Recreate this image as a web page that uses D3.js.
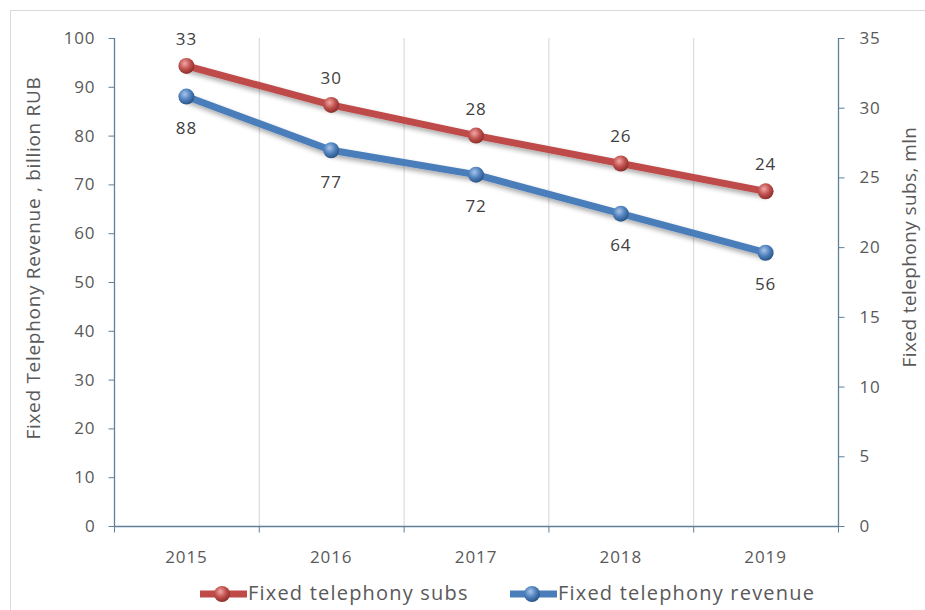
<!DOCTYPE html>
<html>
<head>
<meta charset="utf-8">
<script src="https://cdn.jsdelivr.net/npm/d3@7"></script>
<style>
  html, body { margin: 0; padding: 0; background: #fff; }
  svg { display: block; font-family: "Open Sans", "Noto Sans", sans-serif; }
</style>
</head>
<body>
<svg id="chart" width="925" height="610"></svg>
<script>
const years = ["2015", "2016", "2017", "2018", "2019"];
const revenue = [88, 77, 72, 64, 56];          // billion RUB, left axis
const subs = [33, 30.2, 28, 26, 24];            // mln, right axis
const subsLabels = ["33", "30", "28", "26", "24"];
const revenueTicks = [0, 10, 20, 30, 40, 50, 60, 70, 80, 90, 100];
const subsTicks = [0, 5, 10, 15, 20, 25, 30, 35];

const svg = d3.select("#chart");
const W = 925, H = 610;
const plot = { left: 114, right: 838, top: 38, bottom: 526 };
const textColor = "#595959";
const axisColor = "#5f7f9a";
const red = "#be4b48", blue = "#4a7ebb";

// frame of the chart area
svg.append("rect")
  .attr("x", 10.5).attr("y", 10.5)
  .attr("width", W).attr("height", H)
  .attr("fill", "#fff").attr("stroke", "#d9d9d9");

const x = d3.scaleBand().domain(years).range([plot.left, plot.right]).paddingInner(0).paddingOuter(0);
const yL = d3.scaleLinear().domain([0, 100]).range([plot.bottom, plot.top]);
const yR = d3.scaleLinear().domain([0, 35]).range([plot.bottom, plot.top]);
const cx = d => x(d) + x.bandwidth() / 2;

const defs = svg.append("defs");
function ballGradient(id, light, base, dark) {
  const g = defs.append("radialGradient").attr("id", id)
    .attr("cx", "40%").attr("cy", "35%").attr("r", "65%");
  g.append("stop").attr("offset", "0%").attr("stop-color", light);
  g.append("stop").attr("offset", "55%").attr("stop-color", base);
  g.append("stop").attr("offset", "100%").attr("stop-color", dark);
}
ballGradient("ballRed", "#f0a8a6", "#c0504d", "#8c2f2c");
ballGradient("ballBlue", "#a9c4ea", "#4f81bd", "#2c5588");
const shadow = defs.append("filter").attr("id", "shadow")
  .attr("x", "-10%").attr("y", "-20%").attr("width", "120%").attr("height", "160%");
shadow.append("feGaussianBlur").attr("in", "SourceAlpha").attr("stdDeviation", 2.5).attr("result", "b");
shadow.append("feOffset").attr("dx", 1).attr("dy", 3).attr("result", "o");
shadow.append("feComponentTransfer").append("feFuncA").attr("type", "linear").attr("slope", 0.35);
const merge = shadow.append("feMerge");
merge.append("feMergeNode");
merge.append("feMergeNode").attr("in", "SourceGraphic");

// vertical gridlines at category boundaries
const bounds = years.slice(1).map(d => x(d));
svg.append("g").selectAll("line").data(bounds).join("line")
  .attr("x1", d => d + 0.5).attr("x2", d => d + 0.5)
  .attr("y1", plot.top).attr("y2", plot.bottom)
  .attr("stroke", "#d4d4d4").attr("stroke-width", 1);

// left axis
const gL = svg.append("g").attr("transform", `translate(${plot.left + 0.5},0)`)
  .call(d3.axisLeft(yL).tickValues(revenueTicks).tickSize(6).tickPadding(13));
// right axis
const gR = svg.append("g").attr("transform", `translate(${plot.right + 0.5},0)`)
  .call(d3.axisRight(yR).tickValues(subsTicks).tickSize(6).tickPadding(15));
// bottom axis: ticks at category boundaries, labels at centers
const gB = svg.append("g").attr("transform", `translate(0,${plot.bottom + 0.5})`)
  .call(d3.axisBottom(x).tickSize(0).tickPadding(24));
gB.append("g").selectAll("line").data(bounds.concat([plot.left, plot.right])).join("line")
  .attr("x1", d => d + 0.5).attr("x2", d => d + 0.5)
  .attr("y1", 0).attr("y2", 6).attr("stroke", axisColor);

[gL, gR, gB].forEach(g => {
  g.selectAll(".domain").attr("stroke", axisColor).attr("stroke-width", 1.3);
  g.selectAll(".tick line").attr("stroke", axisColor);
  g.selectAll("text").attr("fill", textColor).attr("font-size", 17)
    .attr("font-family", "Open Sans").attr("letter-spacing", 0.9);
});
gL.select(".domain").attr("d", `M-0,${plot.top}V${plot.bottom}`);
gR.select(".domain").attr("d", `M0,${plot.top}V${plot.bottom}`);
gB.select(".domain").attr("d", `M${plot.left},0H${plot.right + 1}`);

// axis titles
svg.append("text")
  .attr("transform", `translate(40,${(plot.top + plot.bottom) / 2 - 24}) rotate(-90)`)
  .attr("text-anchor", "middle").attr("fill", textColor).attr("font-size", 19)
  .attr("letter-spacing", 0.7)
  .text("Fixed Telephony Revenue , billion RUB");
svg.append("text")
  .attr("transform", `translate(916,${(plot.top + plot.bottom) / 2 - 35}) rotate(-90)`)
  .attr("text-anchor", "middle").attr("fill", textColor).attr("font-size", 19)
  .attr("letter-spacing", 0.4)
  .text("Fixed telephony subs, mln");

// series lines
const lineRev = d3.line().x((d, i) => cx(years[i])).y(d => yL(d));
const lineSubs = d3.line().x((d, i) => cx(years[i])).y(d => yR(d));
svg.append("path").attr("d", lineSubs(subs)).attr("fill", "none")
  .attr("stroke", red).attr("stroke-width", 7).attr("stroke-linejoin", "round")
  .attr("filter", "url(#shadow)");
svg.append("path").attr("d", lineRev(revenue)).attr("fill", "none")
  .attr("stroke", blue).attr("stroke-width", 7).attr("stroke-linejoin", "round")
  .attr("filter", "url(#shadow)");

// markers
svg.append("g").selectAll("circle").data(subs).join("circle")
  .attr("cx", (d, i) => cx(years[i])).attr("cy", d => yR(d)).attr("r", 8)
  .attr("fill", "url(#ballRed)");
svg.append("g").selectAll("circle").data(revenue).join("circle")
  .attr("cx", (d, i) => cx(years[i])).attr("cy", d => yL(d)).attr("r", 8)
  .attr("fill", "url(#ballBlue)");

// data labels
svg.append("g").selectAll("text").data(subs).join("text")
  .attr("x", (d, i) => cx(years[i])).attr("y", d => yR(d) - 21)
  .attr("text-anchor", "middle").attr("fill", "#404040").attr("font-size", 17)
  .attr("letter-spacing", 0.9)
  .text((d, i) => subsLabels[i]);
svg.append("g").selectAll("text").data(revenue).join("text")
  .attr("x", (d, i) => cx(years[i])).attr("y", d => yL(d) + 37.5)
  .attr("text-anchor", "middle").attr("fill", "#404040").attr("font-size", 17)
  .attr("letter-spacing", 0.9)
  .text(d => d);

// legend
const legend = [
  { name: "Fixed telephony subs", color: red, grad: "url(#ballRed)", x: 200 },
  { name: "Fixed telephony revenue", color: blue, grad: "url(#ballBlue)", x: 510 }
];
const lg = svg.append("g").selectAll("g").data(legend).join("g")
  .attr("transform", d => `translate(${d.x},594)`);
lg.append("line").attr("x1", 0).attr("x2", 47).attr("y1", 0).attr("y2", 0)
  .attr("stroke", d => d.color).attr("stroke-width", 7);
lg.append("circle").attr("cx", 22).attr("cy", 0).attr("r", 8).attr("fill", d => d.grad);
lg.append("text").attr("x", 48).attr("y", 6).attr("fill", textColor)
  .attr("font-size", 20).attr("letter-spacing", 1.2).text(d => d.name);
</script>
</body>
</html>
